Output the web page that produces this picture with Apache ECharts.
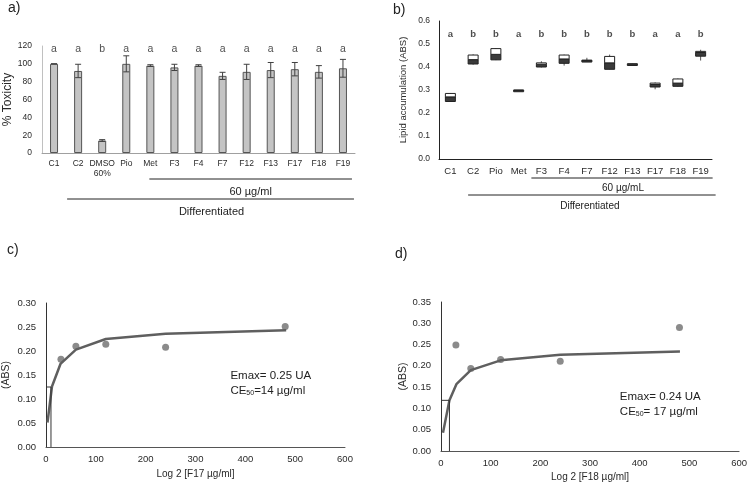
<!DOCTYPE html>
<html><head><meta charset="utf-8">
<script src="https://cdn.jsdelivr.net/npm/echarts@6/dist/echarts.min.js"></script>
<style>html,body{margin:0;padding:0;background:#fff}#c{width:750px;height:483px}</style>
</head><body><div id="c"></div>
<script>
// ---- Panel a data ----
const catA = ['C1','C2','DMSO\n60%','Pio','Met','F3','F4','F7','F12','F13','F17','F18','F19'];
const toxicity = [100,92,14,100,98,96,98,86.5,91,93,94,91,95];
const toxErr   = [0,7.5,1,9,1,3.5,1,4,8.5,8.5,7.5,7,10];
const lettersA = ['a','a','b','a','a','a','a','a','a','a','a','a','a'];
const ticksA = [0,20,40,60,80,100,120];
// ---- Panel b data ----
const catB = ['C1','C2','Pio','Met','F3','F4','F7','F12','F13','F17','F18','F19'];
// [whisker low, box low, median, box high, whisker high]
const lipidBox = [
  [0.250,0.250,0.270,0.285,0.287],
  [0.410,0.413,0.432,0.452,0.455],
  [0.430,0.431,0.455,0.480,0.482],
  [0.298,0.298,0.299,0.300,0.300],
  [0.398,0.400,0.412,0.418,0.425],
  [0.406,0.416,0.435,0.452,0.454],
  [0.426,0.427,0.428,0.430,0.440],
  [0.390,0.390,0.418,0.446,0.454],
  [0.412,0.412,0.413,0.414,0.414],
  [0.303,0.313,0.324,0.330,0.333],
  [0.315,0.316,0.330,0.348,0.350],
  [0.428,0.447,0.463,0.468,0.475]
];
const lettersB = ['a','b','b','a','b','b','b','b','b','a','a','b'];
// ---- Panel c data ----
const concC = [30,60,120,240,480];
const absC  = [0.183,0.210,0.214,0.208,0.251];
const fitXC = [3,12,29,60,120,240,482];
const fitYC = [0.051,0.126,0.173,0.203,0.225,0.236,0.243];
const ec50C = [10,0.125];
// ---- Panel d data ----
const concD = [30,60,120,240,480];
const absD  = [0.249,0.194,0.215,0.211,0.290];
const fitXD = [4,17,31,60,120,240,481];
const fitYD = [0.043,0.119,0.157,0.190,0.213,0.226,0.234];
const ec50D = [17,0.119];

const FONT = 'Liberation Sans, Arial, sans-serif';
const TXT = '#2a2a2a';
const chart = echarts.init(document.getElementById('c'), null, {renderer:'canvas'});

function errItem(params, api){
  const x = api.value(0);
  const lo = api.coord([x, api.value(1)]);
  const hi = api.coord([x, api.value(2)]);
  const w = 3;
  const st = {stroke:'#404040', lineWidth:1};
  return {type:'group', children:[
    {type:'line', shape:{x1:lo[0],y1:lo[1],x2:hi[0],y2:hi[1]}, style:st},
    {type:'line', shape:{x1:lo[0]-w,y1:lo[1],x2:lo[0]+w,y2:lo[1]}, style:st},
    {type:'line', shape:{x1:hi[0]-w,y1:hi[1],x2:hi[0]+w,y2:hi[1]}, style:st}
  ]};
}
function boxItem(params, api){
  const x = api.value(0);
  const p = [1,2,3,4,5].map(i => api.coord([x, api.value(i)]));
  const cx = p[0][0], hw = 5;
  const ch = [
    {type:'line', shape:{x1:cx,y1:p[0][1],x2:cx,y2:p[4][1]}, style:{stroke:'#555',lineWidth:1}},
    {type:'rect', shape:{x:cx-hw,y:p[2][1],width:hw*2,height:Math.max(1.5,p[1][1]-p[2][1])}, style:{fill:'#3a3a3a',stroke:'#222',lineWidth:1}},
    {type:'rect', shape:{x:cx-hw,y:p[3][1],width:hw*2,height:Math.max(0.5,p[2][1]-p[3][1])}, style:{fill:'#fff',stroke:'#222',lineWidth:1}}
  ];
  return {type:'group', children:ch};
}

const axisLbl = (sz)=>({color:TXT, fontFamily:FONT, fontSize:sz});
const option = {
  animation:false,
  textStyle:{fontFamily:FONT},
  grid:[
    {left:42, top:46, width:313, height:107},
    {left:439, top:21, width:273, height:138},
    {left:46, top:303, width:299, height:144},
    {left:441, top:302, width:300, height:149}
  ],
  xAxis:[
    {gridIndex:0, type:'category', data:catA, axisTick:{show:false},
     axisLine:{lineStyle:{color:'#a0a0a0'}}, axisLabel:Object.assign(axisLbl(8.5),{margin:6, interval:0, lineHeight:10})},
    {gridIndex:1, type:'category', data:catB, axisTick:{show:false},
     axisLine:{lineStyle:{color:'#222'}}, axisLabel:Object.assign(axisLbl(9.5),{margin:7, interval:0})},
    {gridIndex:2, type:'value', min:0, max:600, interval:100, splitLine:{show:false},
     axisTick:{show:false}, axisLine:{lineStyle:{color:'#555'}}, axisLabel:Object.assign(axisLbl(9.5),{margin:7}),
     name:'Log 2 [F17 µg/ml]', nameLocation:'middle', nameGap:22, nameTextStyle:axisLbl(10)},
    {gridIndex:3, type:'value', min:0, max:600, interval:100, splitLine:{show:false},
     axisTick:{show:false}, axisLine:{lineStyle:{color:'#555'}}, axisLabel:Object.assign(axisLbl(9.5),{margin:7}),
     name:'Log 2 [F18 µg/ml]', nameLocation:'middle', nameGap:21, nameTextStyle:axisLbl(10)}
  ],
  yAxis:[
    {gridIndex:0, type:'value', min:0, max:120, interval:20, splitLine:{show:false},
     axisLine:{show:true, lineStyle:{color:'#c0c0c0'}}, axisTick:{show:false}, axisLabel:Object.assign(axisLbl(8.5),{margin:10}),
     name:'% Toxicity', nameLocation:'middle', nameGap:28, nameTextStyle:axisLbl(12)},
    {gridIndex:1, type:'value', min:0, max:0.6, interval:0.1, splitLine:{show:false},
     axisLine:{show:true, lineStyle:{color:'#222'}}, axisTick:{show:false},
     axisLabel:Object.assign(axisLbl(8.5),{margin:9, formatter:v=>v.toFixed(1)}),
     name:'Lipid accumulation (ABS)', nameLocation:'middle', nameGap:31, nameTextStyle:axisLbl(9.5)},
    {gridIndex:2, type:'value', min:0, max:0.30, interval:0.05, splitLine:{show:false},
     axisLine:{show:true, lineStyle:{color:'#333'}}, axisTick:{show:false},
     axisLabel:Object.assign(axisLbl(9.5),{margin:10, formatter:v=>v.toFixed(2)}),
     name:'(ABS)', nameLocation:'middle', nameGap:34, nameTextStyle:axisLbl(10.5)},
    {gridIndex:3, type:'value', min:0, max:0.35, interval:0.05, splitLine:{show:false},
     axisLine:{show:true, lineStyle:{color:'#333'}}, axisTick:{show:false},
     axisLabel:Object.assign(axisLbl(9.5),{margin:10, formatter:v=>v.toFixed(2)}),
     name:'(ABS)', nameLocation:'middle', nameGap:31, nameTextStyle:axisLbl(10.5)}
  ],
  series:[
    {type:'bar', xAxisIndex:0, yAxisIndex:0, data:toxicity, barWidth:8,
     itemStyle:{color:'#c4c4c4', borderColor:'#555', borderWidth:1}},
    {type:'custom', xAxisIndex:0, yAxisIndex:0, renderItem:errItem,
     data:toxicity.map((v,i)=>[i, v-toxErr[i], v+toxErr[i]]), z:5},
    {type:'scatter', xAxisIndex:0, yAxisIndex:0, symbolSize:0,
     data:lettersA.map((l,i)=>[i,117]),
     label:{show:true, position:'inside', formatter:p=>lettersA[p.dataIndex], color:'#222', fontSize:10.5, fontFamily:FONT}},
    {type:'custom', xAxisIndex:1, yAxisIndex:1, renderItem:boxItem,
     data:lipidBox.map((b,i)=>[i].concat(b)), encode:{x:0, y:[1,2,3,4,5]}},
    {type:'scatter', xAxisIndex:1, yAxisIndex:1, symbolSize:0,
     data:lettersB.map((l,i)=>[i,0.54]),
     label:{show:true, position:'inside', formatter:p=>lettersB[p.dataIndex], color:'#222', fontSize:9.5, fontFamily:FONT, fontWeight:'bold'}},
    {type:'line', xAxisIndex:2, yAxisIndex:2, data:fitXC.map((x,i)=>[x,fitYC[i]]), showSymbol:false,
     lineStyle:{color:'#5f5f5f', width:2.5}},
    {type:'scatter', xAxisIndex:2, yAxisIndex:2, data:concC.map((x,i)=>[x,absC[i]]), symbolSize:7,
     itemStyle:{color:'#6e6e6e'}},
    {type:'line', xAxisIndex:2, yAxisIndex:2, data:[[0,ec50C[1]],[ec50C[0],ec50C[1]],[ec50C[0],0]], showSymbol:false,
     lineStyle:{color:'#333', width:1}},
    {type:'line', xAxisIndex:3, yAxisIndex:3, data:fitXD.map((x,i)=>[x,fitYD[i]]), showSymbol:false,
     lineStyle:{color:'#5f5f5f', width:2.5}},
    {type:'scatter', xAxisIndex:3, yAxisIndex:3, data:concD.map((x,i)=>[x,absD[i]]), symbolSize:7,
     itemStyle:{color:'#6e6e6e'}},
    {type:'line', xAxisIndex:3, yAxisIndex:3, data:[[0,ec50D[1]],[ec50D[0],ec50D[1]],[ec50D[0],0]], showSymbol:false,
     lineStyle:{color:'#333', width:1}}
  ]
};
chart.setOption(option);

// ---- annotations positioned through the axes ----
const pxA = c => chart.convertToPixel({xAxisIndex:0, yAxisIndex:0}, [c, 0]);
const pxB = c => chart.convertToPixel({xAxisIndex:1, yAxisIndex:1}, [c, 0]);
const pC = (x,y) => chart.convertToPixel({xAxisIndex:2, yAxisIndex:2}, [x, y]);
const pD = (x,y) => chart.convertToPixel({xAxisIndex:3, yAxisIndex:3}, [x, y]);
const ln = (x1,y1,x2,y2) => ({type:'line', shape:{x1,y1,x2,y2}, style:{stroke:'#222', lineWidth:1}});
const tx = (x,y,text,size,align,extra) => ({type:'text', x, y, style:Object.assign({text, fill:'#222', font:size+'px '+FONT, textAlign:align||'center', textVerticalAlign:'middle'}, extra||{})});

const a0 = pxA(4), a1 = pxA(12), a2 = pxA(1);
const b0 = pxB(4), b1 = pxB(11), b2 = pxB(1);
const cT = pC(370, 0.148), dT = pD(360, 0.128);
const sub = {rich:{s:{fontSize:7, verticalAlign:'bottom', fill:'#222', padding:[4,0,0,0], fontFamily:FONT}}};
chart.setOption({graphic:[
  tx(8,8,'a)',14,'left'),
  tx(393,10,'b)',14,'left'),
  tx(7,250,'c)',14,'left'),
  tx(395,254,'d)',14,'left'),
  ln(a0[0]-1,179,a1[0]+9,179),
  tx((a0[0]+a1[0])/2+4,192,'60 µg/ml',11),
  ln(a2[0]-11,199,a1[0]+11,199),
  tx((a2[0]+a1[0])/2+1,212,'Differentiated',11),
  ln(b0[0]-10,178,b1[0]+12,178),
  tx((b0[0]+b1[0])/2+2,188,'60 µg/mL',10),
  ln(b2[0]-5,195,b1[0]+15,195),
  tx((b2[0]+b1[0])/2+3,206,'Differentiated',10),
  tx(cT[0],cT[1],'Emax= 0.25 UA',11.5,'left'),
  {type:'text', x:cT[0], y:cT[1]+15, style:Object.assign({text:'CE{s|50}=14 µg/ml', fill:'#222', font:'11.5px '+FONT, textVerticalAlign:'middle'}, sub)},
  tx(dT[0],dT[1],'Emax= 0.24 UA',11.5,'left'),
  {type:'text', x:dT[0], y:dT[1]+15, style:Object.assign({text:'CE{s|50}= 17 µg/ml', fill:'#222', font:'11.5px '+FONT, textVerticalAlign:'middle'}, sub)}
]});
</script></body></html>
